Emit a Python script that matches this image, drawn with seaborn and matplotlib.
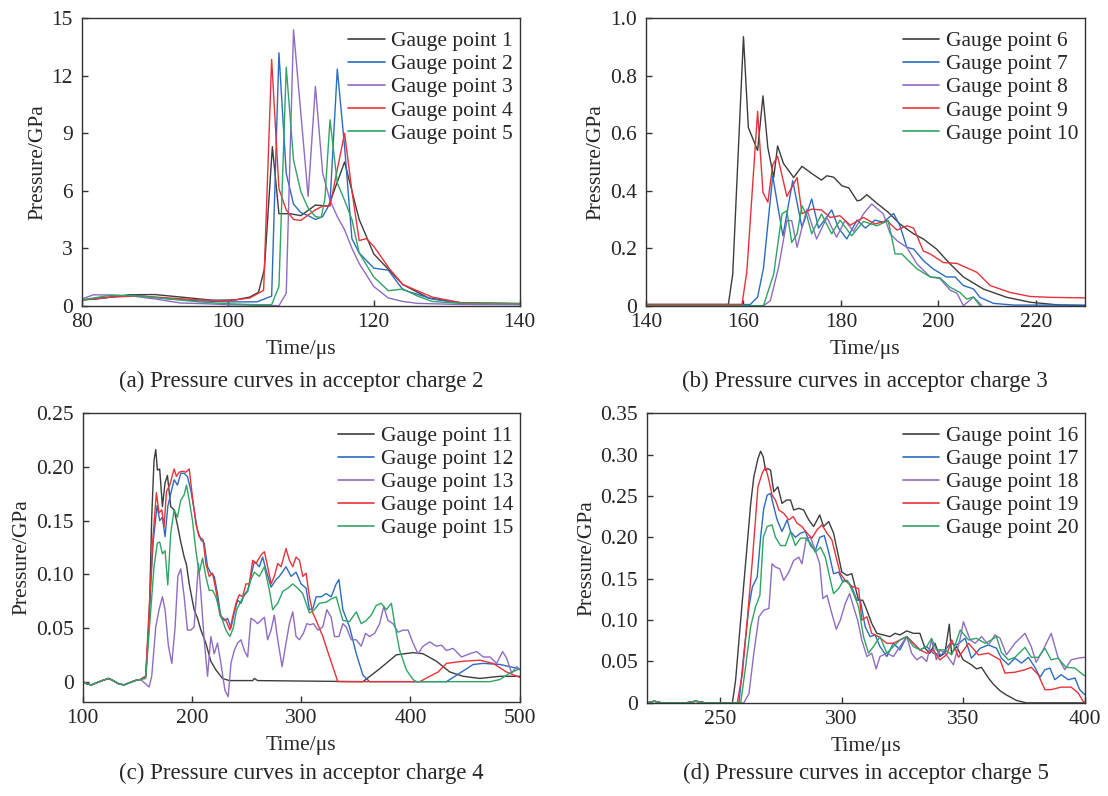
import numpy as np
import pandas as pd
import matplotlib
matplotlib.use("Agg")
import matplotlib.pyplot as plt
import seaborn as sns

sns.set_style("ticks")
plt.rcParams["font.family"] = ["Liberation Serif", "DejaVu Serif"]
plt.rcParams["mathtext.fontset"] = "stix"
FS = 15.5
CAP_FS = 16.5

COLORS = ["#3d3d3d", "#2c6cc0", "#8f6cc4", "#e8323a", "#2fa463"]

# ---------------- (a) acceptor charge 2 ----------------
a1_t = [80, 82, 86.5, 90, 93.5, 98, 101, 103, 104.2, 105, 106.1, 107, 108.5, 110, 112, 113.8, 116, 118, 120, 122, 124, 127.5, 132, 140]
a1_p = [0.3, 0.35, 0.57, 0.58, 0.45, 0.28, 0.3, 0.45, 0.7, 1.9, 8.3, 4.8, 4.8, 4.7, 5.25, 5.2, 7.5, 4.5, 2.7, 1.9, 1.1, 0.4, 0.15, 0.1]
a2_t = [80, 84, 87, 92, 96, 100, 104, 105, 106, 107, 108, 109, 110, 111, 112, 113, 114, 115, 116, 117, 118, 120, 122, 124, 128, 132, 140]
a2_p = [0.3, 0.45, 0.55, 0.35, 0.25, 0.2, 0.2, 0.35, 0.5, 13.2, 6.9, 5.3, 4.86, 4.7, 4.5, 4.65, 5.35, 12.35, 8.3, 3.5, 2.75, 1.96, 1.85, 0.83, 0.35, 0.12, 0.1]
a3_t = [80, 81.6, 84, 87, 90, 93.5, 97, 100, 104, 107, 108, 109, 111, 112, 113, 114, 115, 116, 117, 118, 120, 122, 124, 126, 132, 140]
a3_p = [0.35, 0.57, 0.55, 0.5, 0.35, 0.14, 0.1, 0.05, 0.02, 0.0, 0.65, 14.4, 5.7, 11.45, 6.9, 5.5, 4.65, 3.96, 3.0, 2.2, 1.0, 0.4, 0.22, 0.12, 0.06, 0.05]
a4_t = [80, 84, 88, 92, 96, 100, 103, 104.9, 106, 107, 108, 109, 110, 112, 113, 114, 116, 117, 118, 119, 120, 122.2, 124, 128, 132, 140]
a4_p = [0.3, 0.45, 0.5, 0.4, 0.3, 0.25, 0.4, 0.8, 12.85, 6.1, 5.0, 4.5, 4.45, 5.0, 5.2, 5.2, 9.0, 6.0, 3.4, 3.5, 3.1, 1.9, 1.1, 0.45, 0.15, 0.12]
a5_t = [80, 84, 88, 92, 96, 100, 104, 106, 107, 108, 109, 110, 111, 112, 112.8, 113.3, 114, 115, 116, 117, 118, 120, 122, 124, 126, 128, 132, 140]
a5_p = [0.3, 0.55, 0.5, 0.35, 0.2, 0.1, 0.05, 0.05, 1.0, 12.45, 7.6, 5.95, 5.1, 4.65, 4.6, 5.6, 9.7, 6.4, 5.5, 4.5, 2.75, 1.5, 0.78, 0.87, 0.5, 0.22, 0.12, 0.1]

# ---------------- (b) acceptor charge 3 ----------------
b6_t = [140, 156.9, 157.8, 160, 161, 162.9, 164, 165, 166.2, 167, 168.2, 170.3, 172, 174, 176, 177.1, 178.5, 180.2, 181.6, 183.3, 184, 185.3, 187.4, 189.7, 192.1, 194.9, 196.9, 199.6, 202.4, 205.1, 209.2, 214, 218.8, 224.3, 230]
b6_p = [0.004, 0.004, 0.11, 0.936, 0.62, 0.54, 0.73, 0.55, 0.446, 0.556, 0.495, 0.446, 0.485, 0.46, 0.437, 0.452, 0.447, 0.417, 0.41, 0.365, 0.367, 0.386, 0.356, 0.325, 0.284, 0.25, 0.232, 0.197, 0.145, 0.1, 0.058, 0.029, 0.012, 0.003, 0.0]
b7_t = [140, 161.4, 162.9, 164.1, 166, 167, 168.1, 170.1, 172, 174, 175.4, 178.1, 179.5, 181.2, 183.3, 185, 187, 188.7, 190.8, 192.1, 193.5, 194.9, 196.9, 198.9, 201.6, 203.4, 205.1, 207.2, 208.5, 211.3, 215.4, 230]
b7_p = [0.004, 0.004, 0.03, 0.13, 0.452, 0.35, 0.243, 0.435, 0.272, 0.371, 0.27, 0.333, 0.27, 0.232, 0.298, 0.27, 0.298, 0.29, 0.321, 0.278, 0.203, 0.197, 0.157, 0.128, 0.1, 0.1, 0.07, 0.058, 0.029, 0.008, 0.002, 0.002]
b8_t = [140, 164.1, 165.5, 167.2, 168.9, 169.9, 171, 172, 173, 175, 177.1, 179.1, 180.8, 182.6, 184.6, 186.3, 188.7, 190.1, 191.5, 193.5, 195.6, 198.3, 200.3, 202.4, 203.8, 205.1, 207.2, 208.9]
b8_p = [0.0, 0.0, 0.017, 0.133, 0.296, 0.296, 0.203, 0.272, 0.336, 0.232, 0.307, 0.238, 0.296, 0.259, 0.319, 0.354, 0.319, 0.25, 0.226, 0.203, 0.145, 0.1, 0.094, 0.054, 0.043, 0.0, 0.03, 0.0]
b9_t = [140, 159.7, 160.7, 162.9, 164, 165, 166, 167, 168.9, 171, 172, 174, 176, 177.8, 179.8, 181.9, 184.6, 187, 189.4, 191.5, 193.5, 194.9, 196.9, 198.3, 201, 203.8, 207.9, 210.6, 214.7, 218.8, 222.9, 230]
b9_p = [0.004, 0.004, 0.12, 0.676, 0.394, 0.36, 0.49, 0.52, 0.38, 0.446, 0.32, 0.336, 0.333, 0.307, 0.313, 0.28, 0.307, 0.284, 0.296, 0.263, 0.278, 0.27, 0.19, 0.18, 0.15, 0.147, 0.116, 0.07, 0.046, 0.032, 0.029, 0.027]
b10_t = [140, 164.1, 166.2, 167.9, 168.9, 169.9, 171, 172, 173, 174, 176, 178.1, 179.8, 182.2, 184.6, 187.4, 189.7, 191.1, 192.5, 193.8, 195.6, 198.3, 200.3, 202.4, 204.4, 205.8, 207.2, 208.5]
b10_p = [0.0, 0.0, 0.11, 0.32, 0.33, 0.22, 0.25, 0.348, 0.313, 0.25, 0.319, 0.25, 0.298, 0.243, 0.293, 0.278, 0.296, 0.18, 0.18, 0.157, 0.128, 0.1, 0.097, 0.064, 0.046, 0.023, 0.03, 0.0]

# ---------------- (c) acceptor charge 4 ----------------
c_base_t = [100, 104, 108, 113, 118, 124, 128, 133, 138, 143, 148, 153]
c_base_p = [0.0, -0.002, -0.003, -0.001, 0.001, 0.003, 0.001, -0.002, -0.003, -0.001, 0.001, 0.002]
c11_t = [157.8, 160.9, 163.3, 165.4, 167, 168.5, 170.6, 173.1, 175.5, 177.7, 180.7, 183.8, 186.8, 189.9, 193, 195.1, 197.6, 202.1, 205.2, 208.3, 212.8, 217.4, 222, 228.1, 234.3, 255.7, 257.2, 260.2, 356.6, 371.9, 387.2, 402.4, 411.6, 423.9, 436.1, 448.3, 463.6, 481.9, 494.2, 500]
c11_p = [0.005, 0.054, 0.153, 0.206, 0.216, 0.197, 0.198, 0.163, 0.185, 0.192, 0.163, 0.16, 0.146, 0.13, 0.116, 0.109, 0.091, 0.067, 0.059, 0.048, 0.036, 0.019, 0.011, 0.003, 0.001, 0.001, 0.003, 0.001, 0.0, 0.012, 0.025, 0.027, 0.026, 0.019, 0.009, 0.005, 0.003, 0.005, 0.005, 0.005]
c12_t = [157.8, 160.9, 164.5, 168.2, 170.6, 173.1, 175.5, 178, 180.7, 183.8, 186.8, 189.9, 193, 196, 199.1, 202.1, 205.2, 208.3, 211.3, 214.4, 217.4, 220.5, 223.5, 226.6, 229.7, 232.7, 235.8, 238.8, 241.9, 245, 248, 251.1, 254.1, 257.2, 261.8, 264.8, 267.9, 272.5, 277.1, 280.1, 286.2, 290.8, 295.4, 300, 304.6, 307.6, 310.7, 313.8, 318.3, 322.9, 327.5, 332.1, 334.6, 338.2, 344.3, 350.5, 356.6, 362.7, 433, 445.3, 457.5, 466.7, 481.9, 500]
c12_p = [0.005, 0.06, 0.129, 0.164, 0.15, 0.153, 0.135, 0.163, 0.175, 0.188, 0.183, 0.194, 0.194, 0.191, 0.178, 0.16, 0.141, 0.132, 0.129, 0.107, 0.101, 0.098, 0.082, 0.06, 0.057, 0.059, 0.05, 0.064, 0.076, 0.073, 0.081, 0.085, 0.098, 0.112, 0.107, 0.116, 0.104, 0.088, 0.095, 0.098, 0.107, 0.098, 0.102, 0.091, 0.087, 0.067, 0.068, 0.079, 0.079, 0.082, 0.079, 0.091, 0.095, 0.067, 0.051, 0.026, 0.006, 0.0, 0.0, 0.008, 0.016, 0.017, 0.016, 0.012]
c13_t = [157.8, 160.9, 163.3, 167, 170, 173.1, 175.5, 178.6, 181.7, 184.7, 187.2, 189.9, 193, 196, 199.1, 202.1, 206.1, 208.3, 211.3, 214.4, 217.4, 220.5, 223.5, 226.6, 230.3, 233.3, 235.8, 238.8, 241.9, 245, 248, 251.1, 254.1, 257.2, 260.2, 263.3, 266.4, 269.4, 272.5, 275.5, 278.6, 282.6, 286.2, 289.3, 292.4, 295.4, 298.5, 302.1, 305.2, 308.3, 311.3, 315.3, 319.9, 323.5, 327.5, 330.5, 334.6, 338.2, 341.3, 345.9, 350.5, 355, 359, 362.7, 367.3, 371.9, 375.6, 379.5, 384.1, 388.7, 393.3, 397.9, 402.4, 407, 411.6, 417.7, 423.9, 428.4, 433, 439.1, 446.8, 454.4, 460.6, 466.7, 472.8, 478.9, 484.4, 488, 492.7, 497.2, 500]
c13_p = [-0.002, -0.005, 0.005, 0.051, 0.067, 0.079, 0.067, 0.033, 0.017, 0.051, 0.098, 0.105, 0.079, 0.048, 0.048, 0.051, 0.11, 0.082, 0.039, 0.005, 0.042, 0.026, 0.036, 0.017, -0.008, -0.014, 0.017, 0.029, 0.036, 0.039, 0.029, 0.023, 0.059, 0.057, 0.054, 0.057, 0.06, 0.039, 0.048, 0.062, 0.039, 0.014, 0.036, 0.054, 0.065, 0.042, 0.039, 0.045, 0.054, 0.053, 0.054, 0.048, 0.051, 0.067, 0.06, 0.042, 0.042, 0.054, 0.051, 0.039, 0.039, 0.033, 0.045, 0.042, 0.045, 0.054, 0.07, 0.057, 0.054, 0.046, 0.048, 0.048, 0.036, 0.026, 0.033, 0.037, 0.033, 0.034, 0.029, 0.031, 0.023, 0.026, 0.028, 0.023, 0.023, 0.017, 0.028, 0.022, 0.008, 0.014, 0.011]
c14_t = [157.8, 160.9, 164.5, 167.6, 170, 172.5, 174.6, 176.8, 179.8, 183.8, 185.9, 188.4, 191.4, 194.5, 197.6, 200.6, 203.7, 206.7, 210.4, 212.8, 215.9, 219, 222.6, 225.7, 228.7, 231.2, 234.9, 237.3, 240.4, 243.4, 246.5, 249.5, 252.6, 255.7, 258.7, 263.3, 266.4, 269.4, 272.5, 275.5, 278.6, 281.7, 286.2, 289.3, 292.4, 295.4, 298.5, 301.5, 304.6, 307.6, 310.7, 313.8, 319.9, 326, 333.6, 408.6, 417.7, 425.4, 433, 448.3, 463.6, 475.8, 488, 500]
c14_p = [0.005, 0.067, 0.135, 0.176, 0.157, 0.16, 0.144, 0.177, 0.183, 0.198, 0.191, 0.195, 0.196, 0.195, 0.198, 0.172, 0.147, 0.135, 0.132, 0.11, 0.098, 0.101, 0.082, 0.062, 0.059, 0.057, 0.048, 0.06, 0.073, 0.081, 0.079, 0.091, 0.091, 0.113, 0.11, 0.118, 0.121, 0.107, 0.091, 0.098, 0.11, 0.107, 0.124, 0.113, 0.107, 0.116, 0.113, 0.098, 0.101, 0.079, 0.064, 0.057, 0.042, 0.023, 0.0, 0.0, 0.005, 0.009, 0.017, 0.019, 0.02, 0.017, 0.009, 0.004]
c15_t = [157.8, 161.5, 165.4, 168.5, 170.6, 173.1, 175.5, 178, 180.7, 183.8, 186.8, 189.9, 193, 195.1, 197.6, 200.6, 203.7, 206.7, 209.8, 212.8, 215.9, 219, 222, 225.1, 228.1, 231.2, 234.9, 237.9, 241, 244, 247.1, 251.1, 254.1, 257.2, 261.8, 266.4, 271, 274, 278.6, 283.2, 287.8, 292.4, 296.9, 301.5, 307.6, 312.2, 316.8, 322.9, 327.5, 332.1, 338.2, 344.3, 350.5, 355, 359.6, 364.2, 368.8, 373.4, 378, 382.6, 385.6, 390.2, 396.3, 402.4, 405.5, 472.8, 481.9, 491.1, 500]
c15_p = [0.003, 0.054, 0.107, 0.129, 0.13, 0.119, 0.122, 0.09, 0.138, 0.16, 0.153, 0.169, 0.174, 0.183, 0.169, 0.15, 0.122, 0.101, 0.115, 0.098, 0.085, 0.085, 0.079, 0.067, 0.057, 0.048, 0.042, 0.05, 0.067, 0.073, 0.079, 0.084, 0.095, 0.102, 0.098, 0.107, 0.085, 0.067, 0.073, 0.084, 0.087, 0.091, 0.087, 0.082, 0.064, 0.067, 0.073, 0.074, 0.077, 0.079, 0.057, 0.056, 0.065, 0.054, 0.057, 0.062, 0.071, 0.073, 0.067, 0.073, 0.054, 0.029, 0.011, 0.002, 0.0, 0.0, 0.002, 0.008, 0.012]

# ---------------- (d) acceptor charge 5 ----------------
d_base_t = [220, 223, 226, 230, 236, 240, 244, 250]
d_base_p = [0.0, 0.002, 0.0, 0.0, 0.0, 0.002, 0.0, 0.0]
d16_t = [255.1, 256.4, 258.5, 260.5, 262.6, 263.9, 265.6, 266.7, 267.8, 268.7, 269.7, 270.8, 272.1, 273.8, 275.5, 277.3, 279, 280.3, 282.4, 284.4, 286.5, 288.5, 291, 292.6, 294.7, 296.7, 298.8, 300.1, 302.2, 304.2, 305.6, 307, 308.7, 310.4, 312.4, 314.5, 317.2, 319.9, 322, 324, 326.8, 329.5, 332.2, 334.3, 336.3, 338.4, 340.4, 342.5, 344.3, 345.2, 347.3, 350, 353.4, 355.5, 357.5, 360.4, 362.3, 365, 367.5, 371.9, 376, 381, 400]
d16_p = [0.0, 0.027, 0.1, 0.168, 0.24, 0.273, 0.295, 0.304, 0.297, 0.281, 0.283, 0.281, 0.255, 0.261, 0.241, 0.245, 0.245, 0.233, 0.235, 0.233, 0.221, 0.213, 0.227, 0.213, 0.219, 0.205, 0.176, 0.158, 0.154, 0.156, 0.14, 0.124, 0.124, 0.112, 0.096, 0.084, 0.082, 0.08, 0.084, 0.082, 0.087, 0.084, 0.084, 0.066, 0.06, 0.072, 0.056, 0.06, 0.095, 0.06, 0.068, 0.052, 0.046, 0.041, 0.043, 0.03, 0.023, 0.015, 0.01, 0.003, 0.0, 0.0, 0.0]
d17_t = [257.8, 259.8, 261.9, 263.3, 265.3, 266.7, 268, 269.4, 270.8, 272.1, 273.5, 275.5, 277.6, 279, 281, 283.1, 285.1, 287.2, 289.2, 291, 292.9, 294.7, 296.7, 298.8, 300.5, 302.2, 304.2, 306.3, 307.7, 309.7, 311.7, 313.8, 315.8, 318.6, 321.3, 324, 326.8, 329.5, 332.2, 335, 337.7, 341.2, 344.7, 347.4, 350.8, 353.4, 357, 360.4, 363.7, 365.7, 368.6, 371.3, 374, 376.8, 379.5, 381.6, 383.6, 385.7, 387.7, 390.3, 393.2, 396, 397.9, 400]
d17_p = [0.0, 0.06, 0.116, 0.14, 0.152, 0.2, 0.235, 0.251, 0.253, 0.237, 0.221, 0.207, 0.221, 0.207, 0.2, 0.205, 0.207, 0.19, 0.184, 0.2, 0.202, 0.182, 0.156, 0.158, 0.146, 0.148, 0.14, 0.124, 0.124, 0.092, 0.08, 0.082, 0.068, 0.056, 0.072, 0.064, 0.08, 0.072, 0.064, 0.068, 0.06, 0.058, 0.072, 0.07, 0.078, 0.054, 0.066, 0.07, 0.066, 0.054, 0.046, 0.054, 0.048, 0.055, 0.043, 0.031, 0.04, 0.042, 0.028, 0.034, 0.028, 0.03, 0.016, 0.01]
d18_t = [259.8, 261.9, 263.9, 266, 268, 270.1, 271.4, 272.8, 274.6, 276.2, 278.3, 280.3, 282.4, 283.7, 285.5, 287.2, 289.2, 291, 292.3, 294, 295.6, 297.8, 299.5, 301.5, 303.3, 304.9, 306.6, 308.3, 310.4, 312.4, 314.2, 315.8, 318.6, 321.3, 324, 326.8, 328.8, 330.9, 332.9, 335, 337, 339, 340.4, 342.6, 346, 348.8, 350.1, 352.9, 354.9, 357.6, 360.4, 363.1, 365.2, 367.8, 371.3, 375.4, 378, 380, 382.9, 386.2, 389, 391.8, 394.4, 397.3, 400]
d18_p = [0.0, 0.011, 0.06, 0.104, 0.112, 0.114, 0.168, 0.164, 0.162, 0.148, 0.158, 0.172, 0.176, 0.168, 0.199, 0.2, 0.184, 0.168, 0.126, 0.13, 0.112, 0.089, 0.1, 0.12, 0.132, 0.116, 0.1, 0.076, 0.056, 0.06, 0.041, 0.056, 0.06, 0.056, 0.068, 0.08, 0.06, 0.052, 0.056, 0.05, 0.076, 0.052, 0.064, 0.06, 0.046, 0.078, 0.098, 0.076, 0.072, 0.08, 0.07, 0.082, 0.078, 0.058, 0.072, 0.084, 0.068, 0.049, 0.064, 0.084, 0.055, 0.04, 0.052, 0.054, 0.055]
d19_t = [257.1, 259.2, 261.2, 263.3, 265.6, 267.3, 268.7, 270.1, 271.4, 272.8, 274.2, 276.2, 278.3, 280.1, 281.7, 283.7, 285.8, 287.8, 289.9, 291.9, 294, 296, 298.1, 299.5, 301.5, 303.6, 304.9, 307, 308.3, 310.4, 312.4, 315.2, 318.6, 321.3, 324, 326.8, 329.5, 332.2, 335, 337.7, 340.4, 343.2, 345.3, 348.1, 352.2, 356.3, 360.4, 365.2, 367.2, 371.3, 375.4, 378, 380.9, 383.6, 386.2, 390.3, 394.4, 397.3, 399.3, 400]
d19_p = [0.0, 0.035, 0.1, 0.172, 0.261, 0.277, 0.285, 0.269, 0.251, 0.245, 0.233, 0.229, 0.221, 0.225, 0.217, 0.213, 0.205, 0.199, 0.209, 0.215, 0.205, 0.197, 0.172, 0.156, 0.148, 0.142, 0.14, 0.138, 0.1, 0.104, 0.084, 0.08, 0.072, 0.072, 0.076, 0.08, 0.072, 0.064, 0.06, 0.064, 0.052, 0.058, 0.076, 0.055, 0.072, 0.058, 0.06, 0.052, 0.036, 0.037, 0.04, 0.043, 0.034, 0.016, 0.016, 0.019, 0.019, 0.012, 0.002, 0.0]
d20_t = [258.5, 260.5, 262.6, 264.6, 266.4, 267.8, 269.4, 271.4, 272.8, 274.9, 276.9, 279, 281, 283.1, 285.1, 287.2, 289.2, 291.3, 293.3, 295.1, 296.7, 298.8, 300.8, 302.9, 304.9, 307, 309, 311.1, 313.1, 315.8, 318.6, 321.3, 324, 326.8, 329.5, 332.2, 335, 337, 339, 342.6, 345.3, 348.8, 352.2, 355.5, 359, 361.6, 363.7, 365.7, 368.6, 371.3, 375.4, 378, 380.9, 383.6, 386.2, 389, 392.3, 396, 399.3, 400]
d20_p = [0.0, 0.043, 0.092, 0.116, 0.13, 0.2, 0.213, 0.215, 0.2, 0.19, 0.19, 0.207, 0.19, 0.199, 0.199, 0.193, 0.182, 0.188, 0.176, 0.152, 0.132, 0.138, 0.148, 0.145, 0.132, 0.116, 0.08, 0.06, 0.068, 0.08, 0.06, 0.068, 0.076, 0.08, 0.068, 0.064, 0.068, 0.078, 0.064, 0.064, 0.058, 0.088, 0.076, 0.078, 0.072, 0.076, 0.08, 0.061, 0.052, 0.055, 0.067, 0.055, 0.055, 0.066, 0.052, 0.054, 0.043, 0.042, 0.034, 0.033]

PANELS = [
    dict(pos=[0.074, 0.616, 0.395, 0.361],
         series=[("Gauge point 1", a1_t, a1_p), ("Gauge point 2", a2_t, a2_p),
                 ("Gauge point 3", a3_t, a3_p), ("Gauge point 4", a4_t, a4_p),
                 ("Gauge point 5", a5_t, a5_p)],
         base=None, xlim=(80, 140), ylim=(0, 15),
         xticks=[80, 100, 120, 140], yticks=[0, 3, 6, 9, 12, 15],
         yticklabels=["0", "3", "6", "9", "12", "15"],
         caption="(a) Pressure curves in acceptor charge 2", cap_y=0.521),
    dict(pos=[0.583, 0.616, 0.396, 0.361],
         series=[("Gauge point 6", b6_t, b6_p), ("Gauge point 7", b7_t, b7_p),
                 ("Gauge point 8", b8_t, b8_p), ("Gauge point 9", b9_t, b9_p),
                 ("Gauge point 10", b10_t, b10_p)],
         base=None, xlim=(140, 230), ylim=(0, 1.0),
         xticks=[140, 160, 180, 200, 220], yticks=[0, 0.2, 0.4, 0.6, 0.8, 1.0],
         yticklabels=["0", "0.2", "0.4", "0.6", "0.8", "1.0"],
         caption="(b) Pressure curves in acceptor charge 3", cap_y=0.521),
    dict(pos=[0.0745, 0.118, 0.3945, 0.363],
         series=[("Gauge point 11", c11_t, c11_p), ("Gauge point 12", c12_t, c12_p),
                 ("Gauge point 13", c13_t, c13_p), ("Gauge point 14", c14_t, c14_p),
                 ("Gauge point 15", c15_t, c15_p)],
         base=(c_base_t, c_base_p), xlim=(100, 500), ylim=(-0.019, 0.25),
         xticks=[100, 200, 300, 400, 500], yticks=[0, 0.05, 0.10, 0.15, 0.20, 0.25],
         yticklabels=["0", "0.05", "0.10", "0.15", "0.20", "0.25"],
         caption="(c) Pressure curves in acceptor charge 4", cap_y=0.028),
    dict(pos=[0.584, 0.117, 0.395, 0.364],
         series=[("Gauge point 16", d16_t, d16_p), ("Gauge point 17", d17_t, d17_p),
                 ("Gauge point 18", d18_t, d18_p), ("Gauge point 19", d19_t, d19_p),
                 ("Gauge point 20", d20_t, d20_p)],
         base=(d_base_t, d_base_p), xlim=(220, 400), ylim=(0, 0.35),
         xticks=[250, 300, 350, 400], yticks=[0, 0.05, 0.10, 0.15, 0.20, 0.25, 0.30, 0.35],
         yticklabels=["0", "0.05", "0.10", "0.15", "0.20", "0.25", "0.30", "0.35"],
         caption="(d) Pressure curves in acceptor charge 5", cap_y=0.028),
]

fig = plt.figure(figsize=(11.08, 7.96), dpi=100)

for P in PANELS:
    ax = fig.add_axes(P["pos"])
    rows = []
    for name, t, p in P["series"]:
        tt, pp = list(t), list(p)
        if P["base"] is not None:
            tt = list(P["base"][0]) + tt
            pp = list(P["base"][1]) + pp
        rows.append(pd.DataFrame({"t": tt, "p": pp, "series": name}))
    df = pd.concat(rows, ignore_index=True)
    names = [s[0] for s in P["series"]]
    sns.lineplot(data=df, x="t", y="p", hue="series", hue_order=names,
                 palette=COLORS, estimator=None, sort=False, lw=1.0, ax=ax)
    ax.set_xlim(*P["xlim"])
    ax.set_ylim(*P["ylim"])
    ax.set_xticks(P["xticks"])
    ax.set_xticklabels([str(v) for v in P["xticks"]])
    ax.set_yticks(P["yticks"])
    ax.set_yticklabels(P["yticklabels"])
    ax.tick_params(axis="y", pad=6.5)
    ax.tick_params(axis="x", pad=5)
    ax.tick_params(direction="in", length=4, width=1, labelsize=FS,
                   top=False, right=False, color="#333333")
    for s in ax.spines.values():
        s.set_visible(True)
        s.set_color("#333333")
        s.set_linewidth(1.0)
    ax.set_xlabel("Time/μs", fontsize=FS, labelpad=6)
    ax.set_ylabel("Pressure/GPa", fontsize=FS, labelpad=3)
    leg = ax.legend(loc="upper right", bbox_to_anchor=(1.005, 0.985),
                    frameon=False, fontsize=FS,
                    handlelength=1.7, labelspacing=0.14, handletextpad=0.3,
                    borderpad=0.25, borderaxespad=0.15)
    for h in leg.get_lines():
        h.set_linewidth(1.2)
    x0, w = P["pos"][0], P["pos"][2]
    fig.text(x0 + w / 2, P["cap_y"], P["caption"], ha="center", va="center", fontsize=CAP_FS)

fig.savefig("out.png", dpi=100, facecolor="white")
